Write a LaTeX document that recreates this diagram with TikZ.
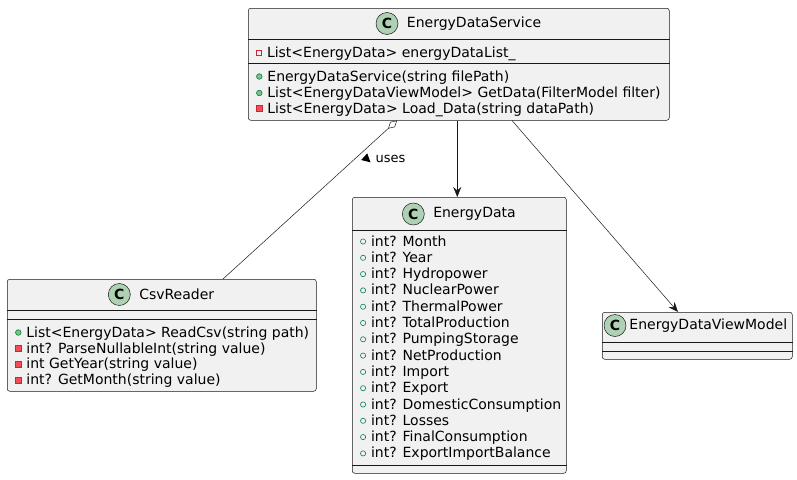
\documentclass[tikz,border=0pt]{standalone}
\usepackage{fontspec}
\setmainfont{DejaVu Sans}
\usepackage{xcolor}
\usepackage{tikz}
\usetikzlibrary{arrows.meta,shapes,positioning}

\definecolor{boxfill}{HTML}{F1F1F1}
\definecolor{boxline}{HTML}{181818}
\definecolor{spotfill}{HTML}{ADD1B2}
\definecolor{pubdk}{HTML}{038048}
\definecolor{publt}{HTML}{84BE84}
\definecolor{prvdk}{HTML}{C82930}
\definecolor{prvlt}{HTML}{F24D5C}

\newcommand{\pubfld}{\tikz[baseline=-4.5pt]\draw[pubdk,line width=0.6pt] (0pt,0pt) circle (2.6pt);}
\newcommand{\pubmth}{\tikz[baseline=-4.5pt]\draw[pubdk,fill=publt,line width=0.6pt] (0pt,0pt) circle (2.8pt);}
\newcommand{\prvfld}{\tikz[baseline=-4.5pt]\draw[prvdk,line width=0.6pt] (-2.6pt,-2.6pt) rectangle (2.6pt,2.6pt);}
\newcommand{\prvmth}{\tikz[baseline=-4.5pt]\draw[prvdk,fill=prvlt,line width=0.6pt] (-2.8pt,-2.8pt) rectangle (2.8pt,2.8pt);}
\newcommand{\usetri}{\tikz[baseline=-3.5pt]\fill[rotate=-42] (5pt,0pt) -- (-3.5pt,4.5pt) -- (-3.5pt,-4.5pt) -- cycle;}

\begin{document}
\begin{tikzpicture}[x=1pt,y=-1pt,
    cls/.style={draw=boxline,fill=boxfill,rounded corners=2.5pt,inner sep=0pt,anchor=north west,line width=0.5pt},
    sep/.style={draw=boxline,line width=0.5pt},
    spot/.style={circle,draw=boxline,fill=spotfill,minimum size=22pt,inner sep=0pt,line width=0.5pt,font=\fontsize{14}{14}\selectfont\bfseries},
    title/.style={inner sep=0pt,font=\fontsize{14}{16}\selectfont},
    member/.style={anchor=base west,inner sep=0pt,font=\fontsize{14}{16}\selectfont},
    lbl/.style={anchor=west,inner sep=0pt,font=\fontsize{13}{15}\selectfont},
    dep/.style={-{Stealth[length=10pt,width=8pt,inset=3.5pt]},draw=boxline,line width=0.5pt},
    agg/.style={{Diamond[open,length=12pt,width=7pt]}-,draw=boxline,line width=0.5pt}]
  \useasboundingbox (0,0) rectangle (797,479);

  \node[cls,minimum width=421pt,minimum height=112pt] (svc) at (248,8) {};
  \node[spot] (svcC) at (387,23.5) {C};
  \node[title,right=8.5pt of svcC] (svcT) {EnergyDataService};
  \draw[sep] ([yshift=-31pt]svc.north west) -- ([yshift=-31pt]svc.north east);
  \draw[sep] ([yshift=-55pt]svc.north west) -- ([yshift=-55pt]svc.north east);
  \node[member] (svcA) at (256,57) {\prvfld\hspace{5pt}List<EnergyData> energyDataList\_};
  \node[member] (svcM1) at (256,81) {\pubmth\hspace{5pt}EnergyDataService(string filePath)};
  \node[member] (svcM2) at (256,97.5) {\pubmth\hspace{5pt}List<EnergyDataViewModel> GetData(FilterModel filter)};
  \node[member] (svcM3) at (256,113) {\prvmth\hspace{5pt}List<EnergyData> Load\_Data(string dataPath)};

  \node[cls,minimum width=309pt,minimum height=112pt] (csv) at (7,279) {};
  \node[spot] (csvC) at (119.3,294.5) {C};
  \node[title,right=8.5pt of csvC] (csvT) {CsvReader};
  \draw[sep] ([yshift=-31pt]csv.north west) -- ([yshift=-31pt]csv.north east);
  \draw[sep] ([yshift=-40pt]csv.north west) -- ([yshift=-40pt]csv.north east);
  \node[member] (csvM1) at (15,337) {\pubmth\hspace{5pt}List<EnergyData> ReadCsv(string path)};
  \node[member] (csvM2) at (15,353) {\prvmth\hspace{5pt}int? ParseNullableInt(string value)};
  \node[member] (csvM3) at (15,368.5) {\prvmth\hspace{5pt}int GetYear(string value)};
  \node[member] (csvM4) at (15,384.5) {\prvmth\hspace{5pt}int? GetMonth(string value)};

  \node[cls,minimum width=214pt,minimum height=276pt] (ed) at (352,197) {};
  \node[spot] (edC) at (413.3,214) {C};
  \node[title,right=8.5pt of edC] (edT) {EnergyData};
  \draw[sep] ([yshift=-33pt]ed.north west) -- ([yshift=-33pt]ed.north east);
  \draw[sep] ([yshift=-268pt]ed.north west) -- ([yshift=-268pt]ed.north east);
  \foreach \f [count=\i from 0] in {Month,Year,Hydropower,NuclearPower,ThermalPower,TotalProduction,PumpingStorage,NetProduction,Import,Export,DomesticConsumption,Losses,FinalConsumption,ExportImportBalance}
    \node[member] (ed-\i) at (360,{246+16.3*\i}) {\pubfld\hspace{5pt}int? \f};

  \node[cls,minimum width=190pt,minimum height=47pt] (vm) at (602,312) {};
  \node[spot] (vmC) at (615,325.5) {C};
  \node[title,right=3pt of vmC] (vmT) {EnergyDataViewModel};
  \draw[sep] ([yshift=-30pt]vm.north west) -- ([yshift=-30pt]vm.north east);
  \draw[sep] ([yshift=-39pt]vm.north west) -- ([yshift=-39pt]vm.north east);

  \draw[agg] ([xshift=149pt]svc.south west) -- ([xshift=216pt]csv.north west);
  \node[lbl] (uses) at (361,158) {\usetri\hspace{5pt}uses};
  \draw[dep] ([xshift=-1.5pt]svc.south) -- ([xshift=-1.5pt]svc.south |- ed.north);
  \draw[dep] ([xshift=264pt]svc.south west) -- ([xshift=76pt]vm.north west);
\end{tikzpicture}
\end{document}
